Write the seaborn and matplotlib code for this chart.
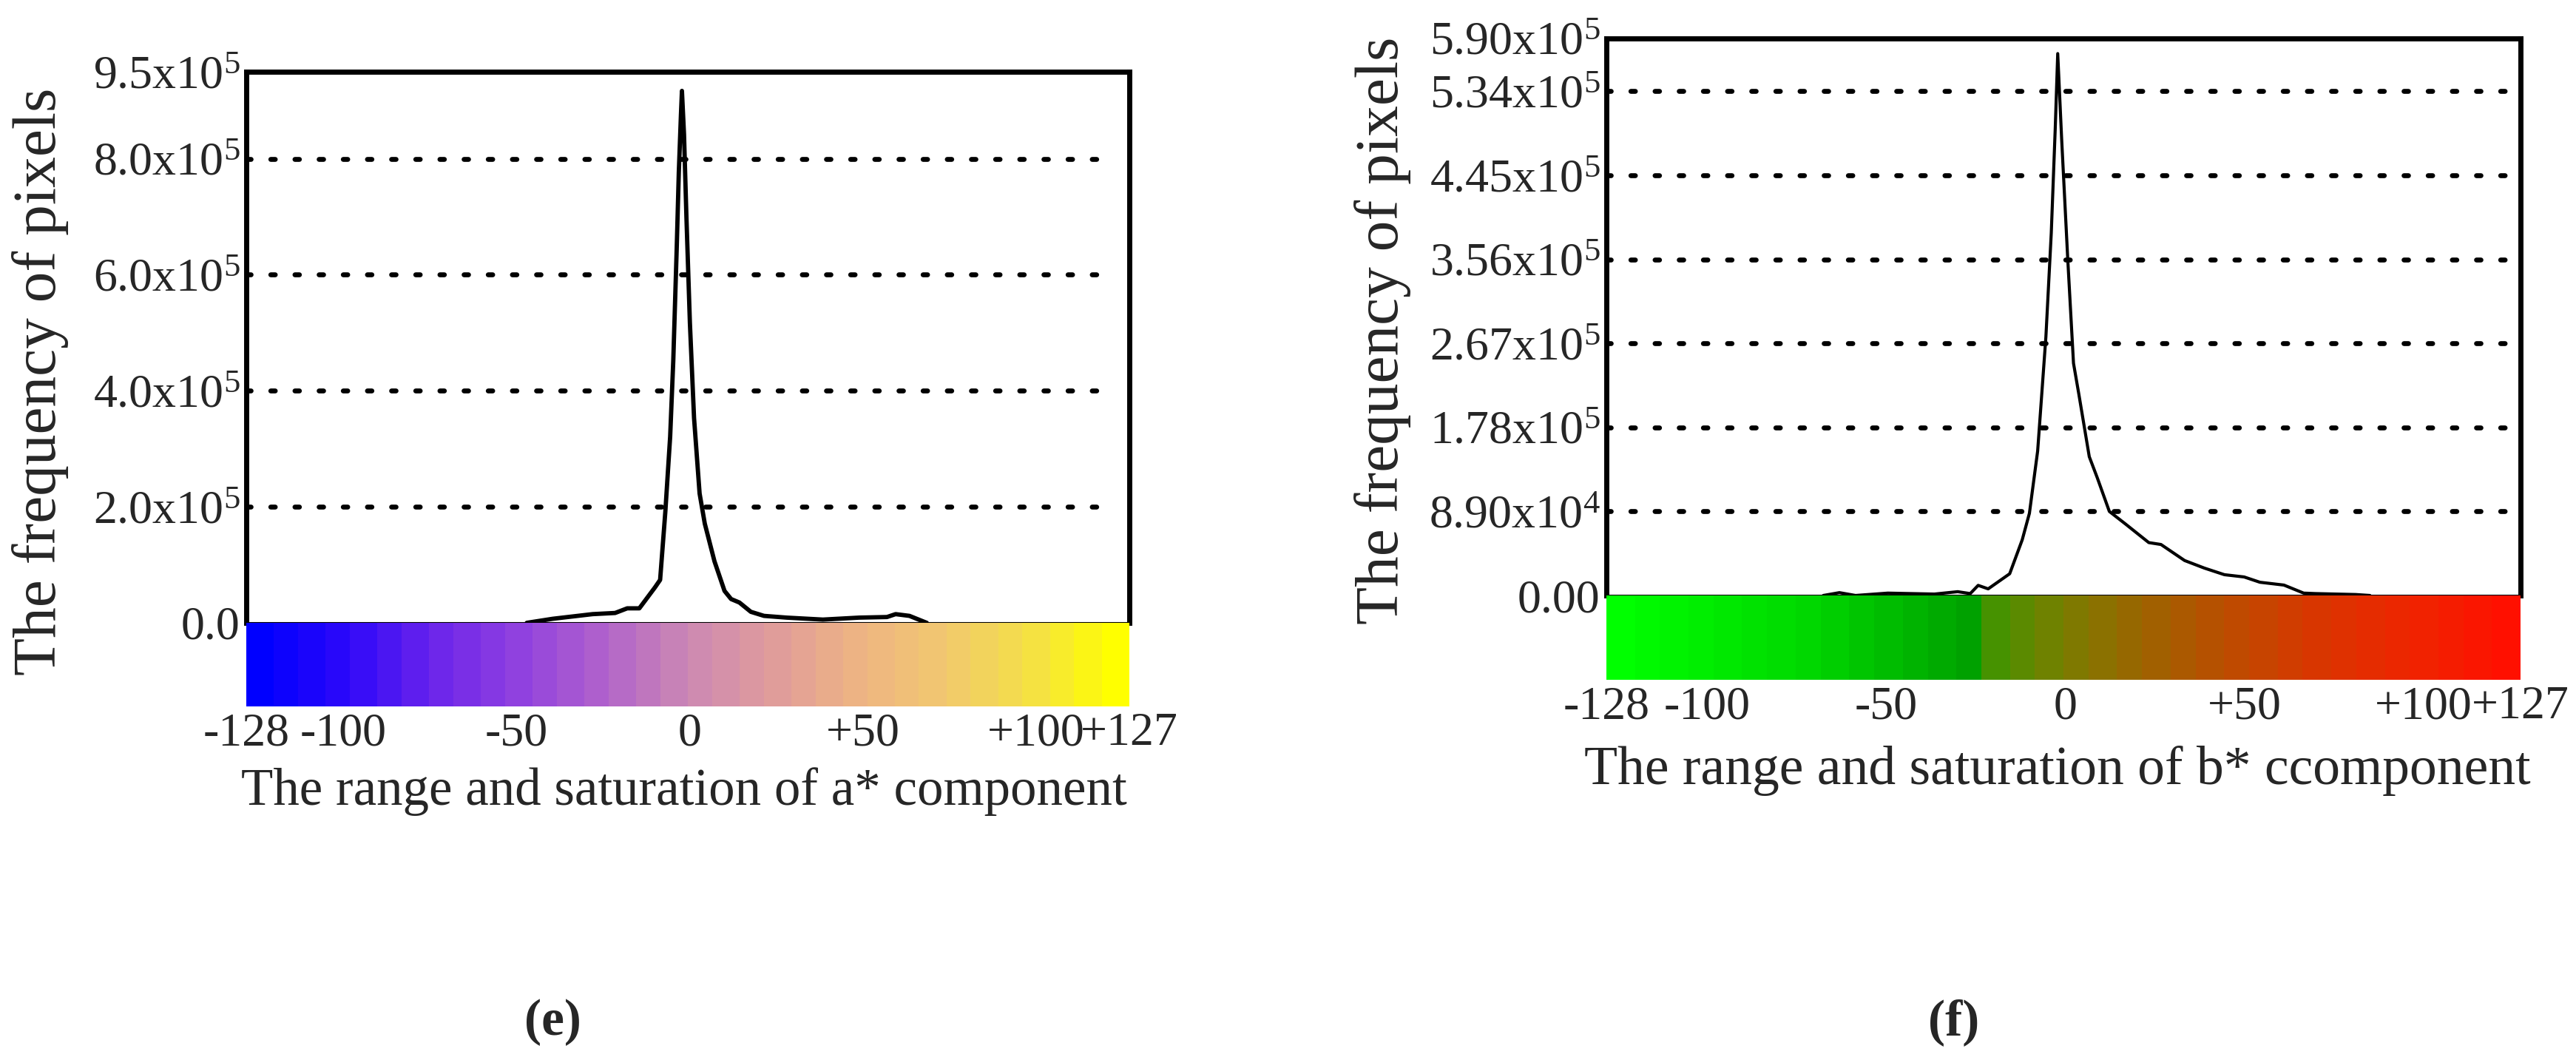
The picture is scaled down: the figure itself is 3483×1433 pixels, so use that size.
import numpy as np
import pandas as pd
import matplotlib.pyplot as plt
import seaborn as sns
from matplotlib.colors import LinearSegmentedColormap

sns.set_theme(style="white")
plt.rcParams['font.family'] = ['Liberation Serif', 'DejaVu Serif']
plt.rcParams['mathtext.fontset'] = 'custom'
plt.rcParams['mathtext.rm'] = 'Liberation Serif'

# a* histogram (frequency in pixels)
a_values = [-47, -39.5, -28, -21.5, -18, -14.5, -10, -8.5, -7, -5.6, -4.7, -3.7, -3.1, -2.5, -2.2,
            -1.6, -0.9, 0.1, 1.3, 2.9, 4.4, 7.2, 10.1, 12, 14.4, 17.7, 21.5, 28, 38.5, 49, 57,
            59.5, 63.5, 68.5]
a_freq = [0, 0.07, 0.15, 0.17, 0.25, 0.25, 0.61, 0.74, 1.91, 3.21, 4.52, 6.47, 7.77, 8.74, 9.17,
          8.42, 6.99, 5.17, 3.53, 2.23, 1.71, 1.06, 0.55, 0.41, 0.35, 0.19, 0.12, 0.09, 0.056, 0.09,
          0.10, 0.15, 0.12, 0.0]
a_freq = [f * 1e5 for f in a_freq]

# b* histogram
b_values = [-67.5, -63, -58.5, -49.5, -36.5, -30, -26.5, -24.3, -21.5, -15.5, -12, -10, -7.7, -5.4,
            -3.9, -2.8, -2.1, -1.0, 0.7, 2.3, 3.8, 6.7, 8.9, 12.3, 16.7, 23.3, 26.7, 33.3, 38.8,
            44.4, 49.9, 54.3, 61, 66.5, 69.8, 81, 85]
b_freq = [0, 0.03, 0, 0.025, 0.015, 0.04, 0.02, 0.107, 0.07, 0.23, 0.59, 0.87, 1.53, 2.74, 3.84,
          4.94, 5.74, 4.83, 3.56, 2.46, 2.13, 1.47, 1.25, 0.89, 0.76, 0.56, 0.54, 0.37, 0.29, 0.22,
          0.196, 0.14, 0.11, 0.025, 0.02, 0.01, 0]
b_freq = [f * 1e5 for f in b_freq]

x_ticks = [-128, -100, -50, 0, 50, 100, 127]
x_ticklabels = ['-128', '-100', '-50', '0', '+50', '+100', '+127']

a_yticks = [0, 2e5, 4e5, 6e5, 8e5, 9.5e5]
a_yticklabels = ['0.0', r'$\mathregular{2.0x10^{5}}$', r'$\mathregular{4.0x10^{5}}$',
                 r'$\mathregular{6.0x10^{5}}$', r'$\mathregular{8.0x10^{5}}$', r'$\mathregular{9.5x10^{5}}$']
b_yticks = [0, 0.89e5, 1.78e5, 2.67e5, 3.56e5, 4.45e5, 5.34e5, 5.90e5]
b_yticklabels = ['0.00', r'$\mathregular{8.90x10^{4}}$', r'$\mathregular{1.78x10^{5}}$',
                 r'$\mathregular{2.67x10^{5}}$', r'$\mathregular{3.56x10^{5}}$',
                 r'$\mathregular{4.45x10^{5}}$', r'$\mathregular{5.34x10^{5}}$',
                 r'$\mathregular{5.90x10^{5}}$']

# colour strips under each axis
a_strip = [(0.0, '#0000ff'), (0.1, '#2c08fa'), (0.2, '#6a24ec'), (0.3, '#9040e0'),
           (0.4, '#b062cc'), (0.5, '#cc88b4'), (0.6, '#e09c9c'), (0.7, '#eeb484'),
           (0.8, '#f2c870'), (0.9, '#f4e048'), (1.0, '#ffff00')]
b_strip = [(0.0, '#00ff00'), (0.21, '#00d800'), (0.4, '#00a000'), (0.405, '#3a9800'),
           (0.5, '#7a7e00'), (0.6, '#a06200'), (0.7, '#c04a00'), (0.8, '#dc3400'),
           (0.9, '#f02400'), (1.0, '#ff1000')]

W, H = 3483, 1433
fig = plt.figure(figsize=(W / 100, H / 100), dpi=100)


def px_axes(x0, x1, y0, y1):
    return fig.add_axes([x0 / W, 1 - y1 / H, (x1 - x0) / W, (y1 - y0) / H])


def panel(box, strip_bottom, xs, ys, yticks, yticklabels, strip, lw_curve, grid_end):
    x0, x1, top, bottom = box
    ax = px_axes(x0, x1, top, bottom)
    sns.lineplot(x=xs, y=ys, ax=ax, color='black', lw=lw_curve)
    ax.set_xlim(-128, 127)
    ax.set_ylim(0, yticks[-1])
    ax.hlines(yticks[1:-1], -128, grid_end,
              colors='black', lw=4.8, linestyles=(0, (0.9, 4.0)), capstyle='round')
    ax.set_xticks([])
    ax.set_yticks(yticks)
    ax.set_yticklabels(yticklabels, fontsize=46)
    ax.tick_params(axis='y', length=0, pad=6)
    ax.set_xlabel('')
    ax.set_ylabel('')
    for s in ['top', 'left', 'right']:
        ax.spines[s].set_linewidth(5)
        ax.spines[s].set_color('black')
    ax.spines['bottom'].set_linewidth(1.5)
    ax.spines['bottom'].set_color('black')

    sx = px_axes(x0, x1, bottom, strip_bottom)
    cmap = LinearSegmentedColormap.from_list('strip', strip, N=34)
    grad = np.linspace(-128, 127, 256).reshape(1, -1)
    sx.imshow(grad, aspect='auto', cmap=cmap, extent=[-128, 127, 0, 1])
    sx.set_xlim(-128, 127)
    sx.set_yticks([])
    sx.set_xticks(x_ticks)
    sx.set_xticklabels(x_ticklabels, fontsize=46)
    sx.tick_params(axis='x', length=0, pad=6)
    for s in sx.spines.values():
        s.set_visible(False)
    return ax


panel((333, 1527, 97, 842), 955, a_values, a_freq, a_yticks, a_yticklabels, a_strip, 4.2, 123)
panel((2172, 3408, 52, 805), 919, b_values, b_freq, b_yticks, b_yticklabels, b_strip, 3.0, 123)

fig.text(55 / W, 1 - 516 / H, 'The frequency of pixels', rotation=90, ha='center', va='center', fontsize=60)
fig.text(1870 / W, 1 - 447 / H, 'The frequency of pixels', rotation=90, ha='center', va='center', fontsize=60)
fig.text(925 / W, 1 - 1070 / H, 'The range and saturation of a* component', ha='center', va='center', fontsize=51)
fig.text(2782 / W, 1 - 1042 / H, 'The range and saturation of b* ccomponent', ha='center', va='center', fontsize=53)
fig.text(747 / W, 1 - 1382 / H, '(e)', ha='center', va='center', fontsize=50, fontweight='bold')
fig.text(2642 / W, 1 - 1382 / H, '(f)', ha='center', va='center', fontsize=50, fontweight='bold')

fig.savefig('out.png', dpi=100, facecolor='white')
plt.close()
